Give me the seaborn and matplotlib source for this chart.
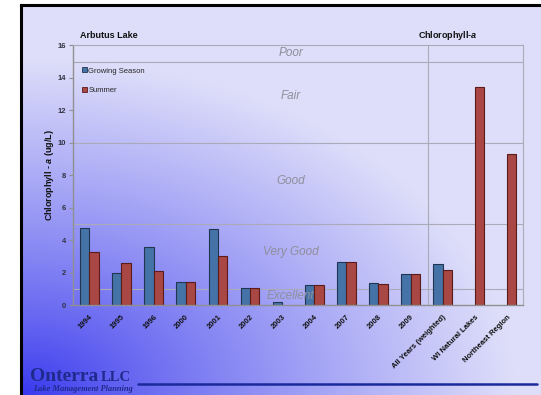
import numpy as np
import pandas as pd
import matplotlib
matplotlib.use("Agg")
import matplotlib.pyplot as plt
import seaborn as sns

categories = ["1994", "1995", "1996", "2000", "2001", "2002", "2003", "2004",
              "2007", "2008", "2009", "All Years (weighted)", "WI Natural Lakes",
              "Northeast Region"]
growing = [4.76, 1.97, 3.59, 1.41, 4.68, 1.05, 0.18, 1.23, 2.66, 1.35, 1.94, 2.52, np.nan, np.nan]
summer = [3.26, 2.58, 2.09, 1.41, 3.02, 1.05, np.nan, 1.23, 2.66, 1.29, 1.94, 2.19, 13.42, 9.29]
series = ["Growing Season", "Summer"]
class_bounds = [1, 5, 10, 15]
class_names = ["Excellent", "Very Good", "Good", "Fair", "Poor"]
class_label_y = [0.57, 3.28, 7.65, 12.88, 15.52]
yticks = [0, 2, 4, 6, 8, 10, 12, 14, 16]

df = pd.DataFrame({
    "cat": categories * 2,
    "val": growing + summer,
    "series": [series[0]] * len(categories) + [series[1]] * len(categories),
})

sns.set_theme(style="white")
plt.rcParams['font.family'] = ['Liberation Sans', 'DejaVu Sans']
plt.rcParams['mathtext.fontset'] = 'custom'
plt.rcParams['mathtext.rm'] = 'Liberation Sans'
plt.rcParams['mathtext.it'] = 'Liberation Sans:italic'
plt.rcParams['mathtext.bf'] = 'Liberation Sans:bold'
plt.rcParams['mathtext.bfit'] = 'Liberation Sans:italic:bold'

W, H = 541, 395
fig = plt.figure(figsize=(W / 100, H / 100), dpi=100)
fig.patch.set_facecolor("white")

# background gradient panel
bg = fig.add_axes([21 / W, 0, 520 / W, 390 / H])
ny, nx = 200, 260
xx, yy = np.meshgrid(np.linspace(0, 1, nx), np.linspace(1, 0, ny))
d = np.sqrt((xx * 1.0) ** 2 + (yy * 1.1) ** 2)
t = np.clip(d / 0.95, 0, 1) ** 0.85
dark = np.array([55, 55, 238]) / 255
light = np.array([222, 222, 250]) / 255
img = dark[None, None, :] + (light - dark)[None, None, :] * t[:, :, None]
bg.imshow(img, aspect="auto", extent=[0, 1, 0, 1], origin="upper")
bg.set_xlim(0, 1)
bg.set_ylim(0, 1)
bg.set_xticks([])
bg.set_yticks([])
for s in ["right", "bottom"]:
    bg.spines[s].set_visible(False)
for s in ["top", "left"]:
    bg.spines[s].set_color("black")
    bg.spines[s].set_linewidth(2.2)

# main axes
ax = fig.add_axes([73.3 / W, (H - 305.3) / H, (523 - 73.3) / W, 260 / H])
ax.patch.set_alpha(0)
sns.barplot(data=df, x="cat", y="val", hue="series", order=categories,
            hue_order=series, palette=["#4673A7", "#A94744"], width=0.58,
            saturation=1, ax=ax, legend=True)
edge = {"Growing Season": "#1F3552", "Summer": "#5A1B1A"}
for cont, name in zip(ax.containers, series):
    for p in cont:
        p.set_edgecolor(edge[name])
        p.set_linewidth(0.8)

ax.set_xlim(-0.5, len(categories) - 0.5)
ax.set_ylim(0, 16)
ax.set_yticks(yticks)
ax.set_yticklabels([str(v) for v in yticks], fontsize=5.5, fontweight="bold", color="#333344")
ax.set_xticks(range(len(categories)))
ax.set_xticklabels(categories, rotation=45, ha="right", rotation_mode="anchor",
                   fontsize=5.5, fontweight="bold", color="#111111")
ax.tick_params(axis="x", which="major", length=0, pad=6)
ax.set_xticks(np.arange(-0.5, len(categories)), minor=True)
ax.tick_params(axis="x", which="minor", length=3, color="#909090", width=0.8, direction="out")
ax.tick_params(axis="y", length=3, color="#909090", width=0.8, direction="out", pad=2, left=True)
ax.set_xlabel("")
ax.set_ylabel(r"Chlorophyll - $\mathbfit{a}$ (ug/L)", fontsize=6.5, fontweight="bold",
              color="#111111", labelpad=1)
for s in ["left", "bottom"]:
    ax.spines[s].set_color("#909090")
    ax.spines[s].set_linewidth(1.0)
for s in ["top", "right"]:
    ax.spines[s].set_color("#AAAAB8")
    ax.spines[s].set_linewidth(0.8)
for b in class_bounds:
    ax.axhline(b, color="#AAAAB8", lw=0.8, zorder=0.5)
ax.axvline(10.55, color="#AAAAB8", lw=0.8, zorder=0.5)
for name, yv in zip(class_names, class_label_y):
    ax.text(6.27, yv, name, ha="center", va="center", fontsize=8.5, style="italic",
            color="#8E8E9A", zorder=3)

leg = ax.legend(loc="upper left", bbox_to_anchor=(0.02, 0.915), frameon=False,
                fontsize=5.5, handlelength=0.6, handleheight=0.6, handletextpad=0.2,
                labelspacing=1.6, borderpad=0, borderaxespad=0)
for h, name in zip(leg.legend_handles, series):
    h.set_edgecolor(edge[name])
    h.set_linewidth(0.6)

# titles
fig.text(80 / W, 1 - 36 / H, "Arbutus Lake", fontsize=6.5, fontweight="bold",
         ha="left", va="center", color="#111111")
fig.text(418 / W, 1 - 36 / H, r"Chlorophyll-$\mathbfit{a}$", fontsize=6.5, fontweight="bold",
         ha="left", va="center", color="#111111")

# footer
t_on = fig.text(30 / W, 1 - 381 / H, "Onterra", fontsize=14, family="Liberation Serif",
                fontweight="bold", color="#1E2A8C", ha="left", va="baseline")
fig.text(101 / W, 1 - 381 / H, "LLC", fontsize=10.5, family="Liberation Serif",
         fontweight="bold", color="#1E2A8C", ha="left", va="baseline")
fig.text(33 / W, 1 - 391 / H, "Lake Management Planning", fontsize=6.0, family="Liberation Serif",
         style="italic", fontweight="bold", color="#1E2A8C", ha="left", va="baseline")
fig.add_artist(plt.Line2D([138 / W, 537 / W], [1 - 384 / H, 1 - 384 / H], color="#1A2A9A", lw=1.8))

fig.savefig("out.png", dpi=100)
